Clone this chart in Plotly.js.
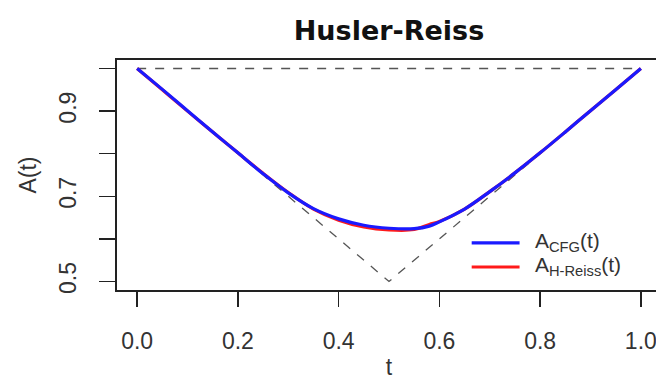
<!DOCTYPE html>
<html>
<head>
<meta charset="utf-8">
<script src="https://cdn.plot.ly/plotly-3.0.1.min.js"></script>
<style>
html,body{margin:0;padding:0;overflow:hidden;background:#fff;width:656px;height:380px;}
#plot{width:661px;height:380px;}
</style>
</head>
<body>
<div id="plot"></div>
<script>
// grid of t values
const tVals = [0, 0.05, 0.1, 0.15, 0.2, 0.25, 0.3, 0.35, 0.4, 0.45, 0.5, 0.55, 0.58, 0.6, 0.65, 0.7, 0.75, 0.8, 0.85, 0.9, 0.95, 1.0];
// A_CFG(t) estimate (blue)
const aCFG = [1.0, 0.951, 0.901, 0.851, 0.802, 0.753, 0.708, 0.671, 0.647, 0.632, 0.625, 0.624, 0.630, 0.640, 0.670, 0.711, 0.755, 0.802, 0.851, 0.901, 0.950, 1.0];
// A_H-Reiss(t) (red)
const aHR = [1.0, 0.950, 0.900, 0.851, 0.802, 0.754, 0.709, 0.670, 0.644, 0.628, 0.621, 0.622, 0.634, 0.641, 0.670, 0.711, 0.755, 0.802, 0.851, 0.901, 0.950, 1.0];
// bounds
const boundT = [0, 0.5, 1];
const lowerBound = [1, 0.5, 1];
const upperBound = [1, 1, 1];
// ticks
const xTicks = [0, 0.2, 0.4, 0.6, 0.8, 1.0];
const xTickText = ['0.0', '0.2', '0.4', '0.6', '0.8', '1.0'];
const yTicks = [0.5, 0.6, 0.7, 0.8, 0.9, 1.0];
const yTickText = ['0.5', '', '0.7', '', '0.9', ''];
// legend entries
const legendNames = ['A<sub>CFG</sub>(t)', 'A<sub>H-Reiss</sub>(t)'];
const legendColors = ['#1a1aff', '#ff1a1a'];

const dashStyle = {color: '#555', width: 1.3, dash: 'dash'};
const traces = [
  {x: boundT, y: upperBound, mode: 'lines', line: dashStyle, showlegend: false, hoverinfo: 'skip'},
  {x: boundT, y: lowerBound, mode: 'lines', line: dashStyle, showlegend: false, hoverinfo: 'skip'},
  {x: tVals, y: aHR, mode: 'lines', line: {color: legendColors[1], width: 3.2, shape: 'spline'}, name: legendNames[1], showlegend: false},
  {x: tVals, y: aCFG, mode: 'lines', line: {color: legendColors[0], width: 3.2, shape: 'spline'}, name: legendNames[0], showlegend: false}
];

// manual legend (paper coords; plot area 117..661 x, 60..290 y)
const legY = [0.205, 0.10];
const shapes = [];
const annotations = [];
for (let i = 0; i < legendNames.length; i++) {
  shapes.push({type: 'line', xref: 'paper', yref: 'paper', x0: 0.652, x1: 0.74, y0: legY[i], y1: legY[i],
               line: {color: legendColors[i], width: 3.2}});
  annotations.push({xref: 'paper', yref: 'paper', x: 0.765, y: legY[i] + 0.005, xanchor: 'left', yanchor: 'middle',
                    text: legendNames[i], showarrow: false,
                    font: {family: 'Liberation Sans, Arial, sans-serif', size: 21, color: '#333'}});
}

const axFont = {family: 'Liberation Sans, Arial, sans-serif', size: 23, color: '#333'};
const layout = {
  width: 661, height: 380,
  margin: {l: 117, r: 0, t: 60, b: 90},
  paper_bgcolor: '#fff', plot_bgcolor: '#fff',
  title: {text: 'Husler-Reiss', x: 0.5, xref: 'paper', y: 0.92, yref: 'container', yanchor: 'middle',
          font: {family: 'DejaVu Sans, sans-serif', size: 27, color: '#111', weight: 'bold'}},
  xaxis: {range: [-0.04, 1.04], tickvals: xTicks, ticktext: xTickText, ticks: 'outside', ticklen: 15, tickwidth: 1.5,
          tickcolor: '#222', showgrid: false, zeroline: false, showline: true, mirror: true, linecolor: '#222', linewidth: 2,
          tickfont: axFont, ticklabelstandoff: 14,
          title: {text: 't', font: axFont, standoff: 12}},
  yaxis: {range: [0.48, 1.02], tickvals: yTicks, ticktext: yTickText, ticks: 'outside', ticklen: 16, tickwidth: 1.5,
          tickcolor: '#222', showgrid: false, zeroline: false, showline: true, mirror: true, linecolor: '#222', linewidth: 2,
          tickfont: axFont, tickangle: -90, ticklabelstandoff: 14,
          title: {text: 'A(t)', font: axFont, standoff: 12}},
  shapes: shapes,
  annotations: annotations,
  showlegend: false
};
Plotly.newPlot('plot', traces, layout, {displayModeBar: false, staticPlot: true});
</script>
</body>
</html>
